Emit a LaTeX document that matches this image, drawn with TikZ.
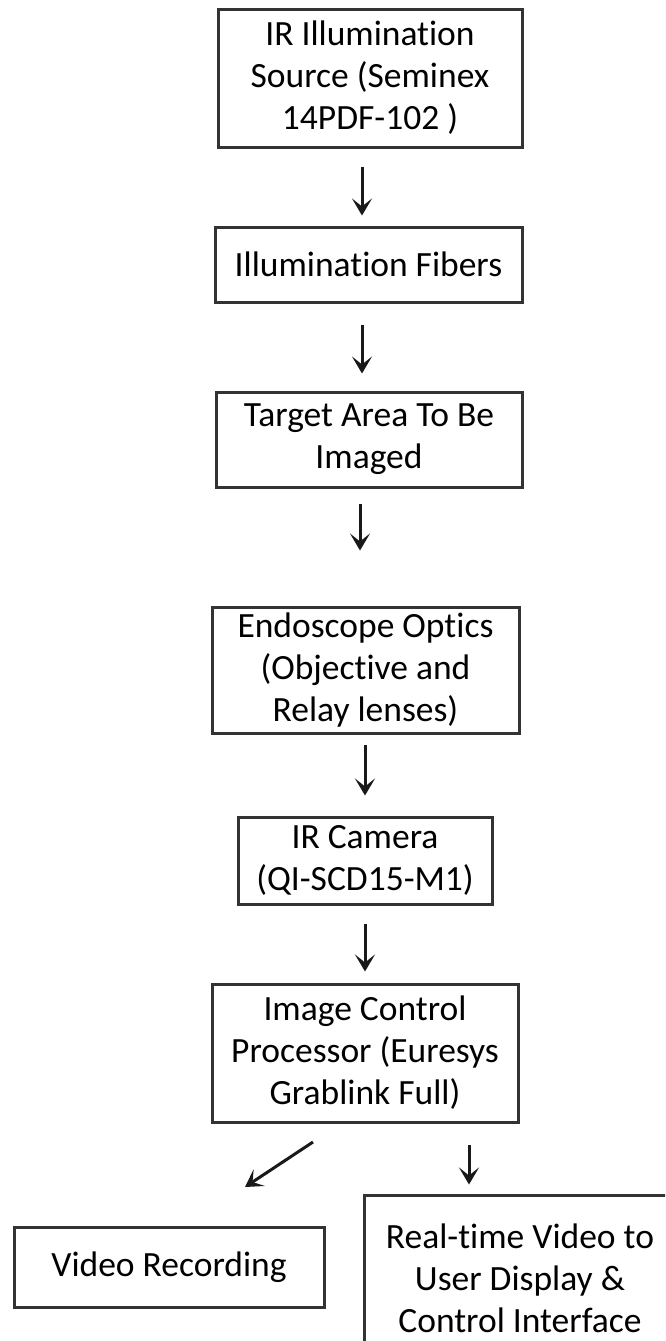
\documentclass[tikz,border=0pt]{standalone}
\usepackage{fontspec}
\setmainfont[Ligatures=NoCommon]{Carlito}
\usetikzlibrary{arrows.meta}
\begin{document}
\begin{tikzpicture}[x=1pt,y=-1pt,
  box/.style={draw=black!80, line width=3pt, fill=white, align=center,
    inner sep=0pt, font=\fontsize{35.5}{42}\selectfont, text=black},
  arr/.style={draw=black!90, line width=3pt,
    -{Stealth[length=17pt,width=20pt,inset=8pt]}}]
\useasboundingbox (0,0) rectangle (665,1341);
\clip (0,0) rectangle (665,1341);
% boxes
\node[box, minimum width=304pt, minimum height=138pt] (b1) at (370,78) {IR Illumination\\Source (Seminex\\14PDF-102 )};
\node[box, minimum width=307pt, minimum height=75pt] (b2) at (368.5,264.5) {Illumination Fibers};
\node[box, minimum width=306pt, minimum height=95pt] (b3) at (369,439.5) {Target Area To Be\\Imaged};
\node[box, minimum width=307pt, minimum height=126pt] (b4) at (365.5,670) {Endoscope Optics\\(Objective and\\Relay lenses)};
\node[box, minimum width=254pt, minimum height=87pt] (b5) at (365,860.5) {IR Camera\\(QI-SCD15-M1)};
\node[box, minimum width=306pt, minimum height=138pt] (b6) at (365,1053) {Image Control\\Processor (Euresys\\Grablink Full)};
\node[box, minimum width=310pt, minimum height=80pt] (b7) at (169,1267) {Video Recording};
\node[box, minimum width=312pt, minimum height=166pt] (b8) at (520,1278) {Real-time Video to\\User Display \&\\Control Interface};
% arrow x positions
\coordinate (x1) at (362,0);
\coordinate (x3) at (360,0);
\coordinate (x4) at (365,0);
\coordinate (x7) at (469,0);
\coordinate (d1s) at (313,1142);
\coordinate (d1e) at (245,1187);
% connectors
\draw[arr, shorten <=18pt, shorten >=10pt] (b1.south -| x1) -- (b2.north -| x1);
\draw[arr, shorten <=21pt, shorten >=17pt] (b2.south -| x1) -- (b3.north -| x1);
\draw[arr, shorten <=15pt, shorten >=55pt] (b3.south -| x3) -- (b4.north -| x3);
\draw[arr, shorten <=10pt, shorten >=20pt] (b4.south -| x4) -- (b5.north -| x4);
\draw[arr, shorten <=18pt, shorten >=11pt] (b5.south -| x4) -- (b6.north -| x4);
\draw[arr] (d1s) -- (d1e);
\draw[arr, shorten <=21pt, shorten >=9pt] (b6.south -| x7) -- (b8.north -| x7);
\end{tikzpicture}
\end{document}
